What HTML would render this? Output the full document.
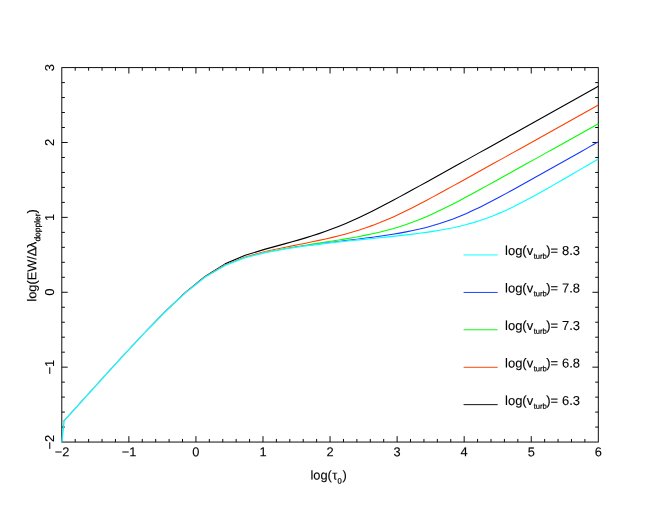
<!DOCTYPE html>
<html><head><meta charset="utf-8"><title>Curve of growth</title>
<style>
html,body{margin:0;padding:0;background:#fff;}
body{width:660px;height:510px;overflow:hidden;}
svg{display:block;will-change:transform;}
text{font-family:"Liberation Sans",sans-serif;font-size:12.85px;fill:#000;stroke:#000;stroke-width:0.1px;}
.s{font-size:7.6px;stroke-width:0.2px;}
.m{text-anchor:middle;}
</style></head><body>
<svg width="660" height="510" viewBox="0 0 660 510">
<rect width="660" height="510" fill="#fff"/>
<g fill="none" stroke="#000" stroke-width="0.95" stroke-linecap="butt">
<rect x="61.80" y="67.60" width="536.50" height="374.45"/>
<path d="M75.21,442.05v-3.10M75.21,67.60v3.10M88.62,442.05v-3.10M88.62,67.60v3.10M102.04,442.05v-3.10M102.04,67.60v3.10M115.45,442.05v-3.10M115.45,67.60v3.10M128.86,442.05v-5.90M128.86,67.60v5.90M142.28,442.05v-3.10M142.28,67.60v3.10M155.69,442.05v-3.10M155.69,67.60v3.10M169.10,442.05v-3.10M169.10,67.60v3.10M182.51,442.05v-3.10M182.51,67.60v3.10M195.93,442.05v-5.90M195.93,67.60v5.90M209.34,442.05v-3.10M209.34,67.60v3.10M222.75,442.05v-3.10M222.75,67.60v3.10M236.16,442.05v-3.10M236.16,67.60v3.10M249.57,442.05v-3.10M249.57,67.60v3.10M262.99,442.05v-5.90M262.99,67.60v5.90M276.40,442.05v-3.10M276.40,67.60v3.10M289.81,442.05v-3.10M289.81,67.60v3.10M303.23,442.05v-3.10M303.23,67.60v3.10M316.64,442.05v-3.10M316.64,67.60v3.10M330.05,442.05v-5.90M330.05,67.60v5.90M343.46,442.05v-3.10M343.46,67.60v3.10M356.88,442.05v-3.10M356.88,67.60v3.10M370.29,442.05v-3.10M370.29,67.60v3.10M383.70,442.05v-3.10M383.70,67.60v3.10M397.11,442.05v-5.90M397.11,67.60v5.90M410.53,442.05v-3.10M410.53,67.60v3.10M423.94,442.05v-3.10M423.94,67.60v3.10M437.35,442.05v-3.10M437.35,67.60v3.10M450.76,442.05v-3.10M450.76,67.60v3.10M464.18,442.05v-5.90M464.18,67.60v5.90M477.59,442.05v-3.10M477.59,67.60v3.10M491.00,442.05v-3.10M491.00,67.60v3.10M504.41,442.05v-3.10M504.41,67.60v3.10M517.83,442.05v-3.10M517.83,67.60v3.10M531.24,442.05v-5.90M531.24,67.60v5.90M544.65,442.05v-3.10M544.65,67.60v3.10M558.06,442.05v-3.10M558.06,67.60v3.10M571.48,442.05v-3.10M571.48,67.60v3.10M584.89,442.05v-3.10M584.89,67.60v3.10M61.80,427.07h3.10M598.30,427.07h-3.10M61.80,412.09h3.10M598.30,412.09h-3.10M61.80,397.12h3.10M598.30,397.12h-3.10M61.80,382.14h3.10M598.30,382.14h-3.10M61.80,367.16h5.90M598.30,367.16h-5.90M61.80,352.18h3.10M598.30,352.18h-3.10M61.80,337.20h3.10M598.30,337.20h-3.10M61.80,322.23h3.10M598.30,322.23h-3.10M61.80,307.25h3.10M598.30,307.25h-3.10M61.80,292.27h5.90M598.30,292.27h-5.90M61.80,277.29h3.10M598.30,277.29h-3.10M61.80,262.31h3.10M598.30,262.31h-3.10M61.80,247.34h3.10M598.30,247.34h-3.10M61.80,232.36h3.10M598.30,232.36h-3.10M61.80,217.38h5.90M598.30,217.38h-5.90M61.80,202.40h3.10M598.30,202.40h-3.10M61.80,187.42h3.10M598.30,187.42h-3.10M61.80,172.45h3.10M598.30,172.45h-3.10M61.80,157.47h3.10M598.30,157.47h-3.10M61.80,142.49h5.90M598.30,142.49h-5.90M61.80,127.51h3.10M598.30,127.51h-3.10M61.80,112.53h3.10M598.30,112.53h-3.10M61.80,97.56h3.10M598.30,97.56h-3.10M61.80,82.58h3.10M598.30,82.58h-3.10"/>
</g>
<g fill="none" stroke-width="1.1" stroke-linejoin="round" stroke-linecap="butt">
<clipPath id="c0"><polygon points="59.80,0.00 59.80,442.05 63.39,420.54 83.63,398.02 103.76,375.79 123.88,353.80 144.02,332.27 164.22,311.68 184.44,292.73 204.64,276.55 224.85,264.41 245.04,256.43 265.21,251.04 285.34,246.69 292.05,245.34 298.76,243.99 305.46,242.65 312.17,241.27 318.87,239.86 325.57,238.39 332.27,236.84 338.97,235.19 345.66,233.43 352.36,231.53 359.06,229.48 365.75,227.26 372.44,224.87 379.14,222.30 385.83,219.56 392.53,216.63 399.23,213.55 405.92,210.32 412.62,206.96 419.32,203.51 426.03,199.98 432.73,196.39 439.43,192.75 446.14,189.09 452.84,185.41 459.55,181.71 466.26,178.01 472.96,174.29 479.67,170.57 486.37,166.84 493.08,163.11 499.79,159.38 506.49,155.65 513.20,151.91 519.90,148.17 526.61,144.43 533.32,140.69 540.02,136.95 546.73,133.21 553.44,129.46 560.14,125.72 566.85,121.98 573.55,118.23 580.26,114.49 586.97,110.75 593.67,107.00 600.30,104.57 600.30,0.00"/></clipPath>
<polyline stroke="#000000" clip-path="url(#c0)" points="61.80,442.05 64.15,420.93 84.27,398.58 104.38,376.34 124.50,354.33 144.62,332.76 164.74,312.04 184.86,292.89 204.98,276.43 225.10,263.87 245.22,255.32 265.33,249.14 285.45,243.64 292.16,241.79 298.87,239.89 305.57,237.90 312.28,235.83 318.98,233.64 325.69,231.31 332.40,228.85 339.10,226.23 345.81,223.46 352.52,220.54 359.22,217.47 365.93,214.27 372.63,210.96 379.34,207.54 386.05,204.04 392.75,200.48 399.46,196.88 406.17,193.24 412.87,189.57 419.58,185.89 426.28,182.19 432.99,178.48 439.70,174.77 446.40,171.05 453.11,167.32 459.82,163.59 466.52,159.86 473.23,156.12 479.93,152.39 486.64,148.65 493.35,144.91 500.05,141.17 506.76,137.42 513.47,133.68 520.17,129.94 526.88,126.20 533.58,122.45 540.29,118.71 547.00,114.97 553.70,111.22 560.41,107.48 567.12,103.73 573.82,99.99 580.53,96.25 587.23,92.50 593.94,88.76 598.30,86.32"/>
<clipPath id="c1"><polygon points="59.80,0.00 59.80,442.05 63.39,420.55 83.64,398.02 103.76,375.80 123.88,353.81 144.02,332.30 164.22,311.74 184.44,292.84 204.64,276.75 224.85,264.76 245.05,256.97 265.21,251.87 285.35,247.97 292.07,246.82 298.78,245.71 305.49,244.64 312.19,243.59 318.90,242.56 325.61,241.52 332.31,240.48 339.02,239.41 345.72,238.30 352.42,237.14 359.12,235.92 365.82,234.61 372.52,233.20 379.21,231.66 385.91,229.99 392.60,228.16 399.30,226.16 405.99,223.97 412.68,221.58 419.37,219.00 426.07,216.22 432.76,213.25 439.46,210.12 446.16,206.84 452.86,203.43 459.56,199.93 466.26,196.36 472.97,192.74 479.67,189.08 486.38,185.40 493.08,181.71 499.79,178.00 506.49,174.29 513.20,170.57 519.90,166.84 526.61,163.11 533.32,159.38 540.02,155.64 546.73,151.91 553.44,148.17 560.14,144.43 566.85,140.69 573.55,136.94 580.26,133.20 586.97,129.46 593.67,125.72 600.30,123.28 600.30,0.00"/></clipPath>
<polyline stroke="#ff4000" clip-path="url(#c1)" points="61.80,442.05 64.15,420.93 84.27,398.59 104.38,376.36 124.50,354.37 144.62,332.85 164.74,312.21 184.86,293.22 204.98,277.04 225.10,264.90 245.22,256.95 265.33,251.57 285.45,247.23 292.16,245.88 298.87,244.53 305.57,243.18 312.28,241.81 318.98,240.40 325.69,238.93 332.40,237.37 339.10,235.72 345.81,233.96 352.52,232.05 359.22,230.00 365.93,227.78 372.63,225.39 379.34,222.82 386.05,220.06 392.75,217.13 399.46,214.04 406.17,210.81 412.87,207.45 419.58,204.00 426.28,200.46 432.99,196.87 439.70,193.24 446.40,189.57 453.11,185.89 459.82,182.19 466.52,178.49 473.23,174.77 479.93,171.05 486.64,167.33 493.35,163.60 500.05,159.86 506.76,156.13 513.47,152.39 520.17,148.65 526.88,144.91 533.58,141.17 540.29,137.43 547.00,133.69 553.70,129.94 560.41,126.20 567.12,122.46 573.82,118.71 580.53,114.97 587.23,111.23 593.94,107.48 598.30,105.05"/>
<clipPath id="c2"><polygon points="59.80,0.00 59.80,442.05 63.39,420.55 83.64,398.02 103.76,375.80 123.88,353.81 144.02,332.30 164.22,311.76 184.44,292.88 204.64,276.82 224.86,264.87 245.05,257.15 265.22,252.14 285.36,248.40 292.07,247.31 298.79,246.29 305.49,245.31 312.20,244.38 318.91,243.49 325.62,242.62 332.33,241.77 339.04,240.94 345.74,240.11 352.45,239.28 359.15,238.44 365.86,237.58 372.56,236.70 379.26,235.77 385.96,234.79 392.67,233.74 399.36,232.61 406.06,231.37 412.76,230.02 419.45,228.53 426.15,226.88 432.84,225.06 439.53,223.04 446.22,220.82 452.91,218.39 459.61,215.76 466.30,212.91 473.00,209.87 479.69,206.66 486.39,203.30 493.09,199.82 499.79,196.26 506.50,192.63 513.20,188.95 519.91,185.25 526.61,181.52 533.32,177.78 540.02,174.04 546.73,170.28 553.43,166.52 560.14,162.75 566.85,158.98 573.55,155.21 580.26,151.43 586.96,147.65 593.67,143.86 600.30,141.40 600.30,0.00"/></clipPath>
<polyline stroke="#00ff00" clip-path="url(#c2)" points="61.80,442.05 64.15,420.94 84.27,398.59 104.38,376.37 124.50,354.39 144.62,332.87 164.74,312.27 184.86,293.33 204.98,277.24 225.10,265.25 245.22,257.50 265.33,252.41 285.45,248.51 292.16,247.36 298.87,246.26 305.57,245.18 312.28,244.14 318.98,243.10 325.69,242.07 332.40,241.02 339.10,239.95 345.81,238.85 352.52,237.69 359.22,236.46 365.93,235.15 372.63,233.73 379.34,232.20 386.05,230.52 392.75,228.69 399.46,226.68 406.17,224.49 412.87,222.10 419.58,219.51 426.28,216.72 432.99,213.75 439.70,210.61 446.40,207.33 453.11,203.92 459.82,200.42 466.52,196.85 473.23,193.22 479.93,189.57 486.64,185.89 493.35,182.19 500.05,178.48 506.76,174.77 513.47,171.05 520.17,167.32 526.88,163.59 533.58,159.86 540.29,156.12 547.00,152.39 553.70,148.65 560.41,144.91 567.12,141.17 573.82,137.42 580.53,133.68 587.23,129.94 593.94,126.20 598.30,123.76"/>
<clipPath id="c3"><polygon points="59.80,0.00 59.80,442.05 63.39,420.55 83.64,398.02 103.76,375.80 123.88,353.82 144.02,332.31 164.22,311.76 184.44,292.89 204.64,276.84 224.86,264.90 245.05,257.21 265.22,252.23 285.36,248.53 292.08,247.47 298.79,246.47 305.50,245.53 312.21,244.64 318.92,243.79 325.63,242.98 332.33,242.20 339.04,241.44 345.75,240.71 352.46,240.00 359.17,239.30 365.87,238.61 372.58,237.93 379.28,237.24 385.99,236.55 392.69,235.84 399.40,235.12 406.10,234.36 412.81,233.56 419.51,232.71 426.21,231.79 432.91,230.80 439.60,229.70 446.30,228.49 453.00,227.15 459.69,225.65 466.38,223.98 473.07,222.11 479.76,220.02 486.45,217.70 493.14,215.15 499.84,212.38 506.53,209.38 513.22,206.19 519.92,202.83 526.62,199.32 533.32,195.70 540.02,191.99 546.73,188.22 553.43,184.40 560.14,180.56 566.84,176.68 573.55,172.79 580.25,168.88 586.96,164.96 593.66,161.01 600.30,158.44 600.30,0.00"/></clipPath>
<polyline stroke="#1438ff" clip-path="url(#c3)" points="61.80,442.05 64.15,420.94 84.27,398.59 104.38,376.37 124.50,354.39 144.62,332.88 164.74,312.28 184.86,293.36 204.98,277.30 225.10,265.36 245.22,257.68 265.33,252.68 285.45,248.94 292.16,247.85 298.87,246.83 305.57,245.86 312.28,244.93 318.98,244.03 325.69,243.17 332.40,242.32 339.10,241.48 345.81,240.66 352.52,239.83 359.22,238.99 365.93,238.13 372.63,237.24 379.34,236.31 386.05,235.33 392.75,234.28 399.46,233.15 406.17,231.91 412.87,230.56 419.58,229.07 426.28,227.41 432.99,225.59 439.70,223.57 446.40,221.34 453.11,218.91 459.82,216.26 466.52,213.42 473.23,210.37 479.93,207.15 486.64,203.79 493.35,200.31 500.05,196.74 506.76,193.11 513.47,189.43 520.17,185.73 526.88,182.00 533.58,178.26 540.29,174.52 547.00,170.76 553.70,167.00 560.41,163.23 567.12,159.46 573.82,155.68 580.53,151.91 587.23,148.12 593.94,144.34 598.30,141.88"/>
<polyline stroke="#0cf0f6" stroke-width="1.3" points="61.80,442.05 64.15,420.94 84.27,398.59 104.38,376.37 124.50,354.39 144.62,332.89"/>
<polyline stroke="#0cf0f6" stroke-width="1.25" points="144.62,332.89 164.74,312.29 184.86,293.37"/>
<polyline stroke="#0cf0f6" stroke-width="1.15" points="184.86,293.37 204.98,277.32 225.10,265.40"/>
<polyline stroke="#00ffff" stroke-width="1.07" points="225.10,265.40 245.22,257.73 265.33,252.77"/>
<polyline stroke="#00ffff" stroke-width="1.1" points="265.33,252.77 285.45,249.07 292.16,248.01 298.87,247.02 305.57,246.08 312.28,245.19 318.98,244.34 325.69,243.53 332.40,242.74 339.10,241.99 345.81,241.26 352.52,240.55 359.22,239.85 365.93,239.16 372.63,238.48 379.34,237.79 386.05,237.10 392.75,236.39 399.46,235.66 406.17,234.90 412.87,234.11 419.58,233.25 426.28,232.34 432.99,231.34 439.70,230.24 446.40,229.03 453.11,227.69 459.82,226.19 466.52,224.51 473.23,222.63 479.93,220.54 486.64,218.22 493.35,215.66 500.05,212.88 506.76,209.88 513.47,206.69 520.17,203.32 526.88,199.81 533.58,196.18 540.29,192.47 547.00,188.70 553.70,184.88 560.41,181.03 567.12,177.16 573.82,173.27 580.53,169.36 587.23,165.43 593.94,161.49 598.30,158.92"/>
</g>
<text transform="translate(62.10,456.20) matrix(1 0.0005 0 1 0 0)" class="m">−2</text>
<text transform="translate(129.16,456.20) matrix(1 0.0005 0 1 0 0)" class="m">−1</text>
<text transform="translate(195.93,456.20) matrix(1 0.0005 0 1 0 0)" class="m">0</text>
<text transform="translate(262.99,456.20) matrix(1 0.0005 0 1 0 0)" class="m">1</text>
<text transform="translate(330.05,456.20) matrix(1 0.0005 0 1 0 0)" class="m">2</text>
<text transform="translate(397.11,456.20) matrix(1 0.0005 0 1 0 0)" class="m">3</text>
<text transform="translate(464.18,456.20) matrix(1 0.0005 0 1 0 0)" class="m">4</text>
<text transform="translate(531.24,456.20) matrix(1 0.0005 0 1 0 0)" class="m">5</text>
<text transform="translate(598.30,456.20) matrix(1 0.0005 0 1 0 0)" class="m">6</text>
<text transform="translate(54.10,442.05) rotate(-90) matrix(1 0.0005 0 1 0 0)" class="m">−2</text>
<text transform="translate(54.10,367.16) rotate(-90) matrix(1 0.0005 0 1 0 0)" class="m">−1</text>
<text transform="translate(54.10,292.27) rotate(-90) matrix(1 0.0005 0 1 0 0)" class="m">0</text>
<text transform="translate(54.10,217.38) rotate(-90) matrix(1 0.0005 0 1 0 0)" class="m">1</text>
<text transform="translate(54.10,142.49) rotate(-90) matrix(1 0.0005 0 1 0 0)" class="m">2</text>
<text transform="translate(54.10,67.60) rotate(-90) matrix(1 0.0005 0 1 0 0)" class="m">3</text>
<text transform="translate(328.60,479.60) matrix(1 0.0005 0 1 0 0)" class="m">log(<tspan dx="0.4">τ</tspan><tspan class="s" dx="0.3" dy="4">0</tspan><tspan dy="-4" dx="0.7">)</tspan></text>
<text transform="translate(36.20,301.60) rotate(-90) matrix(1 0.0005 0 1 0 0)" style="font-size:12.8px">log(EW<tspan dx="-0.1">/</tspan>Δ<tspan dx="-0.5">λ</tspan><tspan style="font-size:8.45px;stroke-width:0.2px" dx="0.1" dy="4">doppler</tspan><tspan dy="-4">)</tspan></text>
<line x1="463.6" x2="497.71" y1="254.95" y2="254.95" stroke="#00ffff" stroke-width="0.95"/>
<text transform="translate(505.01,255.00) matrix(1 0.0005 0 1 0 0)" style="font-size:13px">log(v<tspan class="s" dx="0.5" dy="3.8">turb</tspan><tspan dx="-0.5" dy="-3.8">)= </tspan><tspan dx="0.2">8.3</tspan></text>
<line x1="463.6" x2="497.71" y1="292.45" y2="292.45" stroke="#1438ff" stroke-width="0.95"/>
<text transform="translate(505.01,292.47) matrix(1 0.0005 0 1 0 0)" style="font-size:13px">log(v<tspan class="s" dx="0.5" dy="3.8">turb</tspan><tspan dx="-0.5" dy="-3.8">)= </tspan><tspan dx="0.2">7.8</tspan></text>
<line x1="463.6" x2="497.71" y1="329.75" y2="329.75" stroke="#00ff00" stroke-width="0.95"/>
<text transform="translate(505.01,329.94) matrix(1 0.0005 0 1 0 0)" style="font-size:13px">log(v<tspan class="s" dx="0.5" dy="3.8">turb</tspan><tspan dx="-0.5" dy="-3.8">)= </tspan><tspan dx="0.2">7.3</tspan></text>
<line x1="463.6" x2="497.71" y1="367.30" y2="367.30" stroke="#ff4000" stroke-width="0.95"/>
<text transform="translate(505.01,367.41) matrix(1 0.0005 0 1 0 0)" style="font-size:13px">log(v<tspan class="s" dx="0.5" dy="3.8">turb</tspan><tspan dx="-0.5" dy="-3.8">)= </tspan><tspan dx="0.2">6.8</tspan></text>
<line x1="463.6" x2="497.71" y1="404.65" y2="404.65" stroke="#000000" stroke-width="0.95"/>
<text transform="translate(505.01,404.88) matrix(1 0.0005 0 1 0 0)" style="font-size:13px">log(v<tspan class="s" dx="0.5" dy="3.8">turb</tspan><tspan dx="-0.5" dy="-3.8">)= </tspan><tspan dx="0.2">6.3</tspan></text>
</svg>
</body></html>
